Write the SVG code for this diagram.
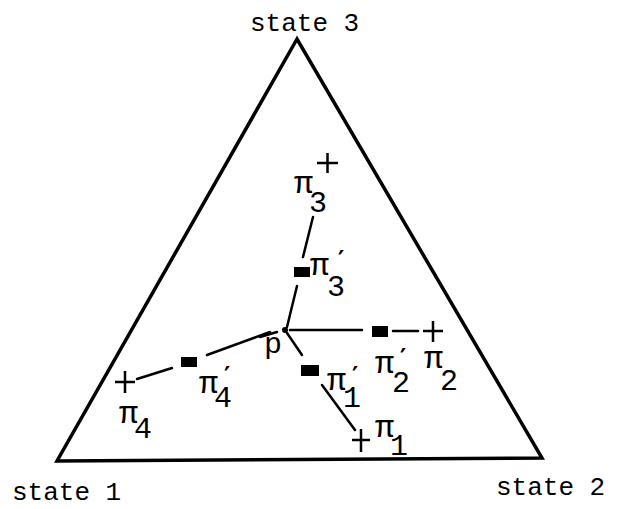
<svg xmlns="http://www.w3.org/2000/svg" width="624" height="509" viewBox="0 0 624 509">
<style>
text{font-family:"Liberation Mono","DejaVu Sans Mono",monospace;fill:#000}
.st{font-size:26px}
.pi{font-size:32px}
.sub{font-size:30px}
.pr{font-family:"DejaVu Sans",sans-serif;font-size:24px;font-weight:bold}
.pl{font-size:30px}
.ln{stroke:#000;stroke-width:2.5;fill:none;stroke-linecap:round}
.tri{stroke:#000;stroke-width:3.5;fill:none;stroke-linejoin:miter}
.sq{fill:#000}
.plus{stroke:#000;stroke-width:2.5}
</style>
<rect width="624" height="509" fill="#fff"/>
<g id="triangle"><polygon class="tri" points="297,39 57,461 542,458"/></g>
<g id="state3"><text class="st" x="250" y="31">state 3</text></g>
<g id="state1"><text class="st" x="12" y="500">state 1</text></g>
<g id="state2"><text class="st" x="496" y="495">state 2</text></g>
<g id="connectors">
<line class="ln" x1="313" y1="217" x2="303" y2="257"/>
<line class="ln" x1="297" y1="286" x2="287" y2="327"/>
<line class="ln" x1="290" y1="330" x2="362" y2="330"/>
<line class="ln" x1="393" y1="331" x2="418" y2="331"/>
<line class="ln" x1="287" y1="333" x2="302" y2="355"/>
<line class="ln" x1="322" y1="385" x2="355" y2="430"/>
<line class="ln" x1="277" y1="332" x2="260" y2="337"/>
<line class="ln" x1="270" y1="332" x2="207" y2="355"/>
<line class="ln" x1="172" y1="368" x2="137" y2="379"/>
</g>
<g id="p"><circle cx="285" cy="330" r="3"/><text class="pl" x="264" y="353">p</text></g>
<g id="pi3"><path class="plus" d="M317 163H338M327.5 153V173"/><text><tspan class="pi" x="294" y="193">π</tspan><tspan class="sub" x="309" y="212">3</tspan></text></g>
<g id="pi3p"><rect class="sq" x="294" y="267" width="16" height="10"/><text><tspan class="pi" x="310" y="275">π</tspan><tspan class="pr" x="338" y="268">′</tspan><tspan class="sub" x="327" y="296">3</tspan></text></g>
<g id="pi2p"><rect class="sq" x="372" y="326" width="16" height="11"/><text><tspan class="pi" x="375" y="373">π</tspan><tspan class="pr" x="400" y="366">′</tspan><tspan class="sub" x="392" y="392">2</tspan></text></g>
<g id="pi2"><path class="plus" d="M423 331H443M433 321V342"/><text><tspan class="pi" x="424" y="368">π</tspan><tspan class="sub" x="440" y="390">2</tspan></text></g>
<g id="pi1p"><rect class="sq" x="301" y="365" width="18" height="11"/><text><tspan class="pi" x="327" y="390">π</tspan><tspan class="pr" x="352" y="384">′</tspan><tspan class="sub" x="343" y="407">1</tspan></text></g>
<g id="pi1"><path class="plus" d="M352 440H370M361 429V452"/><text><tspan class="pi" x="375" y="437">π</tspan><tspan class="sub" x="390" y="455">1</tspan></text></g>
<g id="pi4p"><rect class="sq" x="181" y="357" width="16" height="10"/><text><tspan class="pi" x="199" y="393">π</tspan><tspan class="pr" x="224" y="384">′</tspan><tspan class="sub" x="214" y="407">4</tspan></text></g>
<g id="pi4"><path class="plus" d="M115 382H135M125 371V393"/><text><tspan class="pi" x="119" y="423">π</tspan><tspan class="sub" x="134" y="438">4</tspan></text></g>
</svg>
